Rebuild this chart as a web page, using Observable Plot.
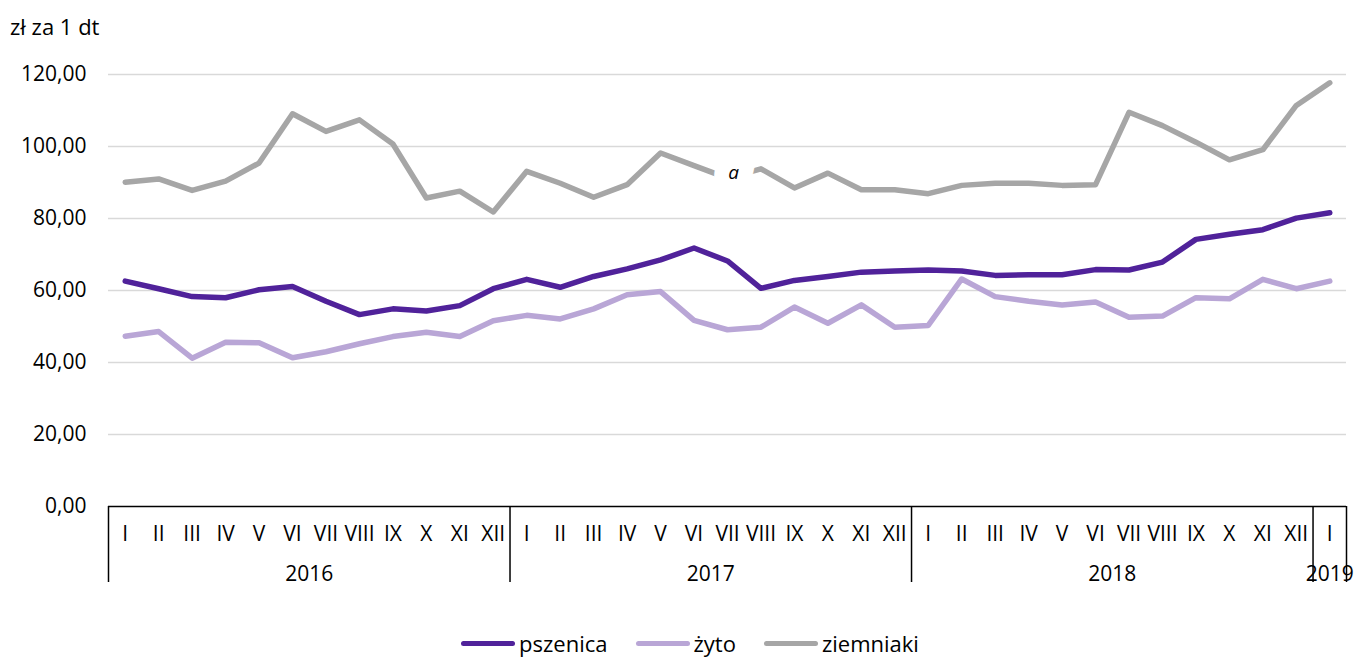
<!DOCTYPE html>
<html>
<head>
<meta charset="utf-8">
<script src="https://cdn.jsdelivr.net/npm/d3@7"></script>
<script src="https://cdn.jsdelivr.net/npm/@observablehq/plot@0.6"></script>
<style>
  html, body { margin: 0; padding: 0; background: #fff; }
  body { width: 1354px; height: 658px; overflow: hidden; font-family: "Open Sans", sans-serif; color: #000; }
  #title { height: 50px; line-height: 52px; padding-left: 10px; font-size: 22px; }
  #legend { height: 58px; display: flex; justify-content: center; align-items: center; padding-top: 28px; box-sizing: border-box; padding-left: 26px; font-size: 22px; }
  .item { display: flex; align-items: center; margin: 0 14px; }
  .sw { display: inline-block; width: 54px; height: 5px; border-radius: 3px; margin-right: 4px; }
</style>
</head>
<body>
<div id="title">zł za 1 dt</div>
<div id="chart"></div>
<div id="legend"></div>
<script>
// Categories
const monthLabels = ["I","II","III","IV","V","VI","VII","VIII","IX","X","XI","XII"];
const years = [2016, 2017, 2018, 2019];
const monthsPerYear = [12, 12, 12, 1];
const yTicks = [0, 20, 40, 60, 80, 100, 120];

// Series values (zł za 1 dt), I 2016 – I 2019
const pszenica = [62.6, 60.5, 58.3, 58.0, 60.2, 61.1, 57.0, 53.3, 54.9, 54.3, 55.8, 60.5,
                  63.1, 60.9, 63.9, 66.0, 68.5, 71.8, 68.2, 60.6, 62.8, 63.9, 65.1, 65.4,
                  65.7, 65.4, 64.2, 64.4, 64.4, 65.8, 65.7, 67.9, 74.2, 75.6, 76.9, 80.1,
                  81.6];
const zyto = [47.3, 48.6, 41.2, 45.6, 45.5, 41.3, 43.0, 45.2, 47.2, 48.4, 47.2, 51.6,
              53.1, 52.1, 54.9, 58.8, 59.7, 51.7, 49.1, 49.8, 55.4, 50.9, 56.0, 49.8,
              50.3, 63.2, 58.3, 57.0, 56.0, 56.8, 52.6, 52.9, 58.0, 57.7, 63.1, 60.5,
              62.6];
const ziemniaki = [90.1, 91.0, 87.8, 90.4, 95.4, 109.1, 104.2, 107.4, 100.7, 85.7, 87.6, 81.8,
                   93.1, 89.8, 85.9, 89.4, 98.2, 94.7, 91.2, 93.8, 88.5, 92.6, 88.0, 88.0,
                   86.9, 89.2, 89.8, 89.8, 89.2, 89.4, 109.5, 105.8, 101.2, 96.3, 99.1, 111.4,
                   117.7];
const seriesNames = ["pszenica", "żyto", "ziemniaki"];
const seriesColors = ["#50229a", "#b9a6d6", "#a6a6a6"];
const noteLabel = "a";      // annotation on ziemniaki
const noteIndex = 18;       // VII 2017

// Build period index
const periods = [];
years.forEach((y, yi) => {
  for (let m = 0; m < monthsPerYear[yi]; m++) periods.push({year: y, month: m});
});
const idx = periods.map((_, i) => i);

const rows = [];
[pszenica, zyto, ziemniaki].forEach((arr, s) => {
  arr.forEach((v, i) => rows.push({i, v, s: seriesNames[s]}));
});

// year boundaries & label positions
const boundaries = [];
const yearMids = new Map();
let start = 0;
years.forEach((y, yi) => {
  boundaries.push(start - 0.5);
  const end = start + monthsPerYear[yi] - 1;
  yearMids.set((start + end) / 2, String(y));
  start = end + 1;
});
boundaries.push(start - 0.5);

const fmt = d => d.toFixed(2).replace(".", ",");

const chart = Plot.plot({
  width: 1354,
  height: 550,
  marginLeft: 108,
  marginRight: 8,
  marginTop: 24,
  marginBottom: 94,
  style: {fontFamily: "Open Sans, sans-serif", fontSize: "22px", color: "#000", background: "#fff"},
  x: {type: "linear", domain: [-0.5, periods.length - 0.5]},
  y: {domain: [0, 120]},
  color: {domain: seriesNames, range: seriesColors},
  marks: [
    Plot.gridY(yTicks.filter(d => d > 0), {stroke: "#d9d9d9", strokeOpacity: 1, strokeWidth: 1.5}),
    Plot.axisY(yTicks, {tickSize: 0, tickPadding: 22, tickFormat: fmt, label: null, fontSize: 21}),
    Plot.axisX(idx, {tickSize: 0, tickPadding: 20, tickFormat: i => monthLabels[periods[i].month], label: null, fontSize: 21}),
    Plot.axisX([...yearMids.keys()], {tickSize: 0, tickPadding: 60, tickFormat: k => yearMids.get(k), label: null, fontSize: 21}),
    Plot.axisX(boundaries, {tickSize: 76, tickFormat: () => "", label: null, stroke: "#000", strokeWidth: 1.5}),
    Plot.ruleY([0], {stroke: "#000", strokeWidth: 1.5}),
    Plot.line(rows, {x: "i", y: "v", z: "s", stroke: "s", strokeWidth: 5.5, strokeLinecap: "round", strokeLinejoin: "round"}),
    Plot.text([{i: noteIndex, v: ziemniaki[noteIndex]}], {x: "i", y: "v", text: () => noteLabel, dx: 6, dy: -5,
      fontStyle: "italic", fontSize: 19, fill: "#000", stroke: "#fff", strokeWidth: 30, strokeLinejoin: "miter"})
  ]
});
document.getElementById("chart").appendChild(chart);

const legend = document.getElementById("legend");
seriesNames.forEach((n, k) => {
  const it = document.createElement("div");
  it.className = "item";
  const sw = document.createElement("span");
  sw.className = "sw";
  sw.style.background = seriesColors[k];
  const t = document.createElement("span");
  t.textContent = n;
  it.appendChild(sw); it.appendChild(t);
  legend.appendChild(it);
});
</script>
</body>
</html>
